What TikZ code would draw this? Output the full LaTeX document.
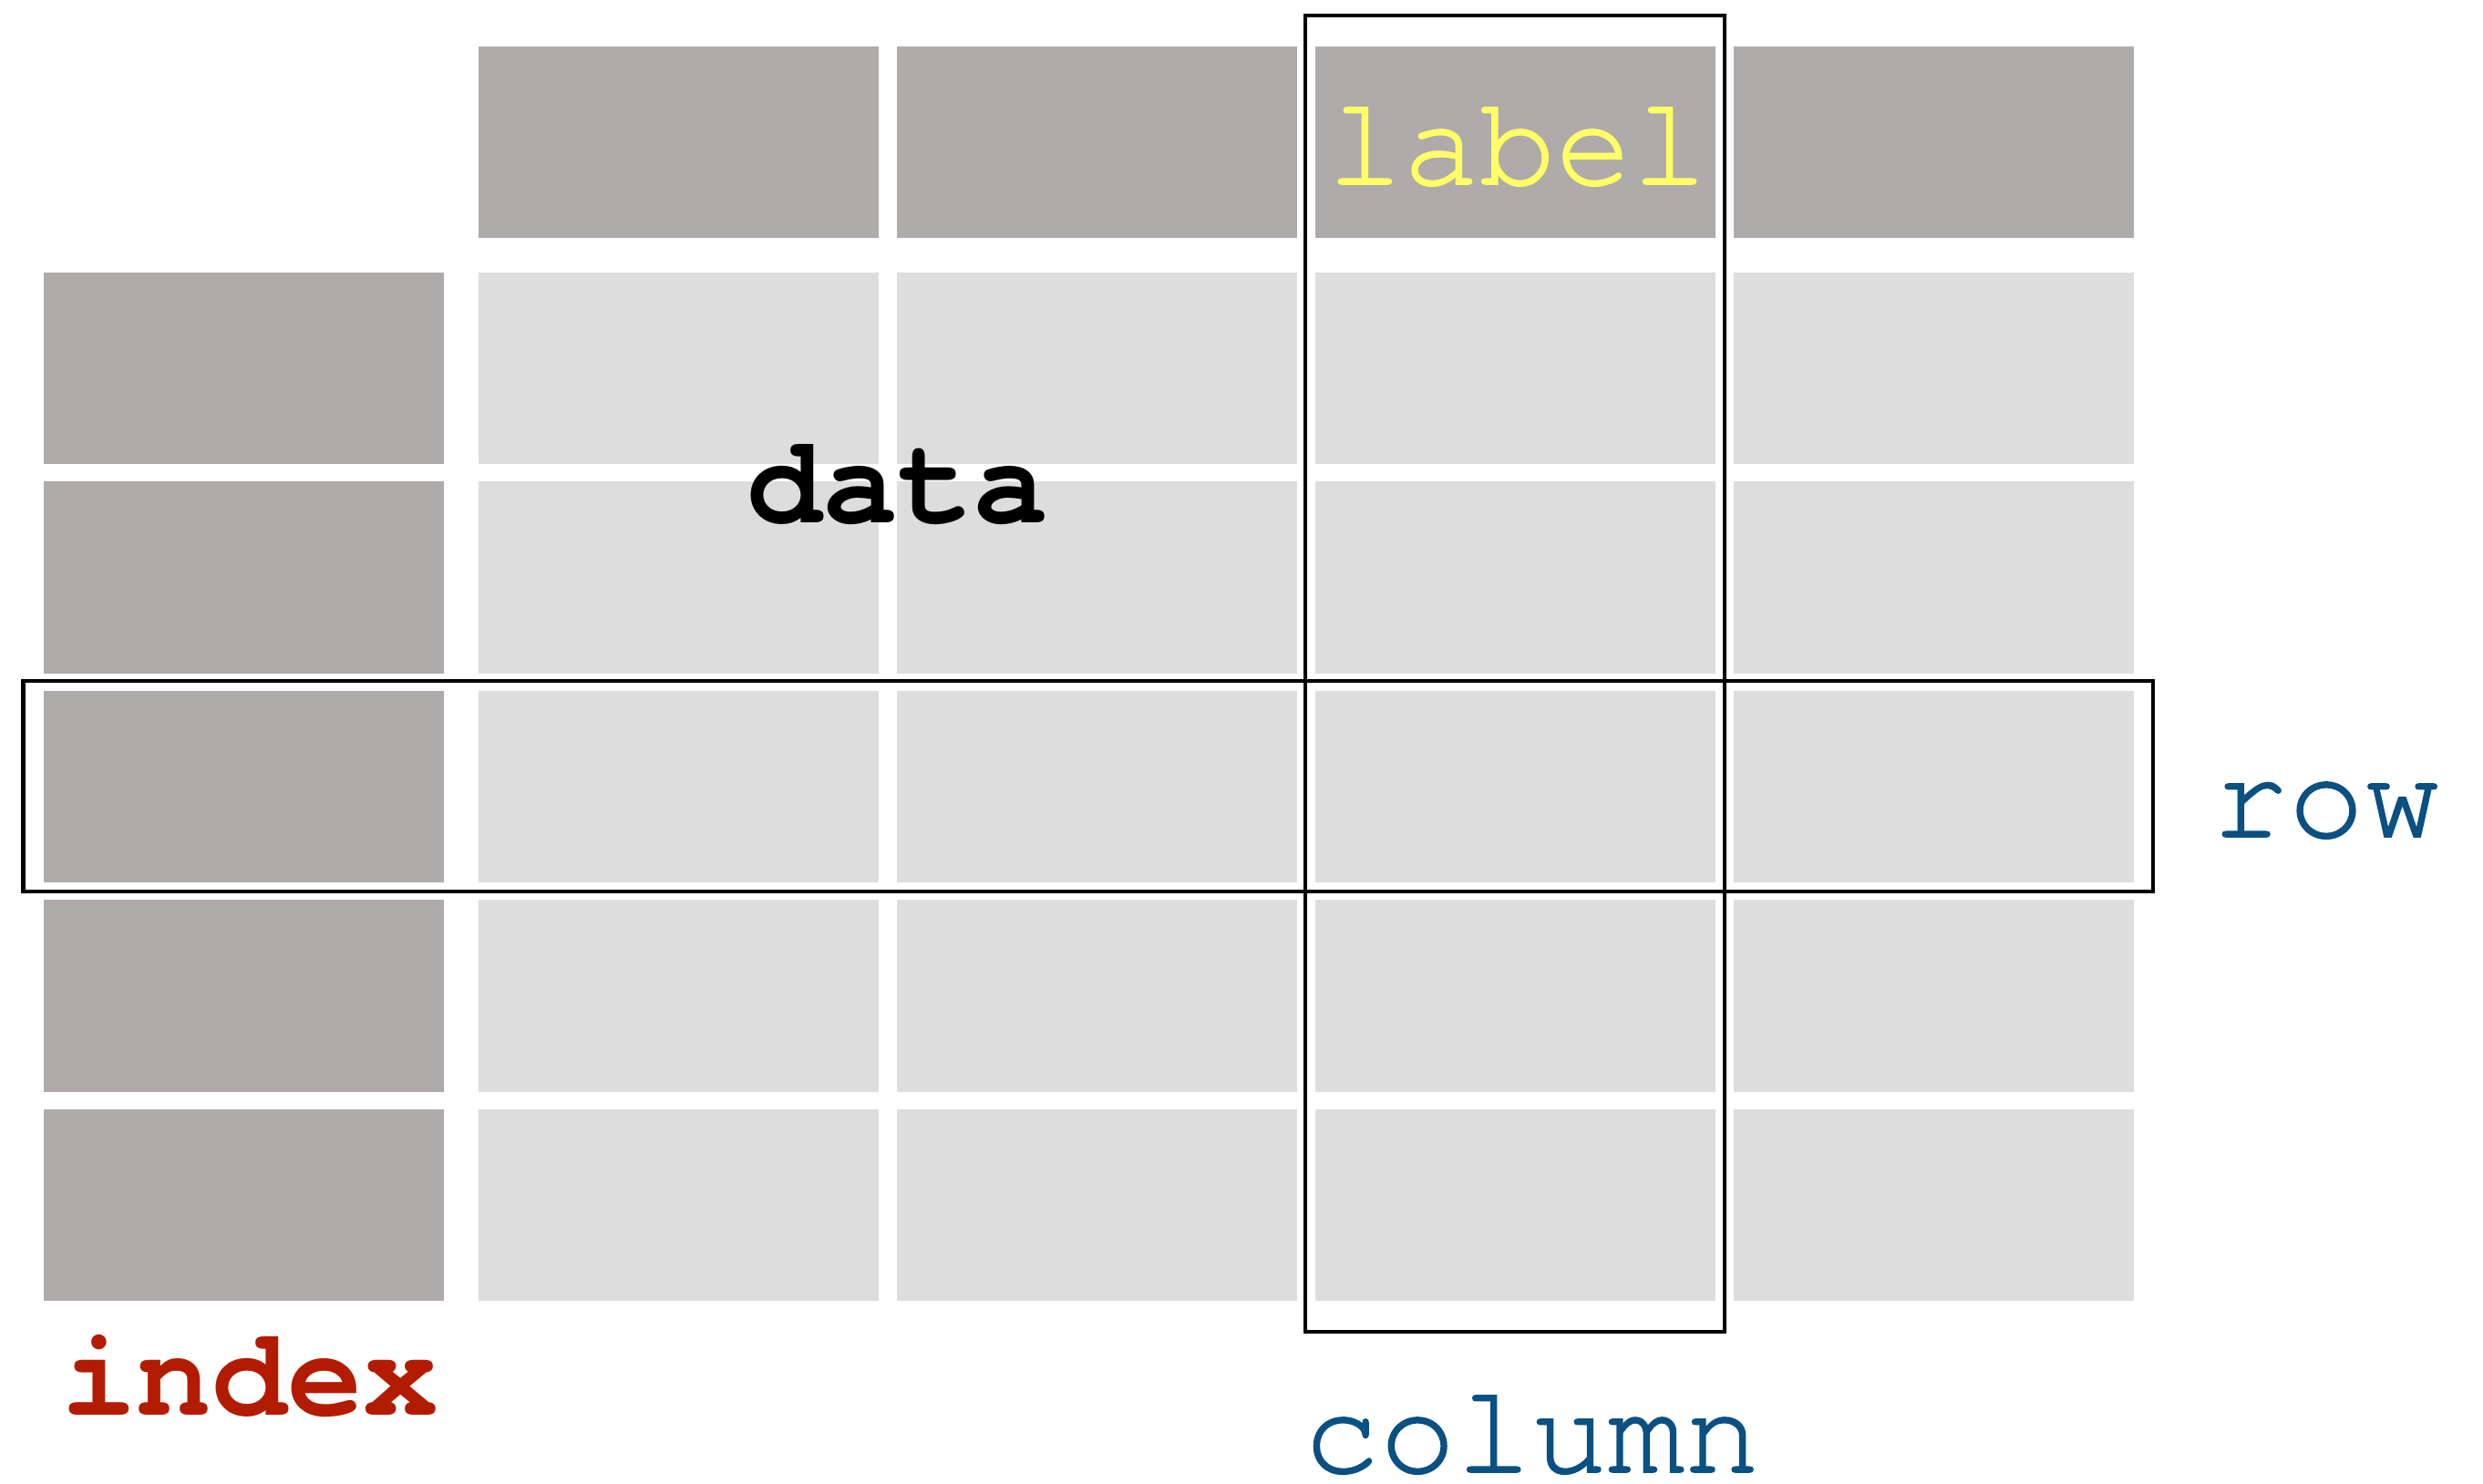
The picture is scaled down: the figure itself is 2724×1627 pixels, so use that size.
\documentclass[tikz,border=0pt]{standalone}
\usepackage{fontspec}
\setmonofont{texgyrecursor}[
  Extension=.otf,
  UprightFont=*-regular,
  BoldFont=*-bold]
% slightly heavier regular weight for the plain labels
\newfontfamily\cursormed{texgyrecursor-regular.otf}[FakeBold=1.2]
\definecolor{headgray}{HTML}{AFABAA}
\definecolor{cellgray}{HTML}{DDDDDD}
\definecolor{labelyellow}{HTML}{FFFF66}
\definecolor{axisblue}{HTML}{0A5082}
\definecolor{indexred}{HTML}{B31B00}
\begin{document}
\begin{tikzpicture}[x=0.01cm, y=-0.01cm,
  cell/.style={rectangle, inner sep=0pt, outer sep=0pt, minimum width=4.39cm, minimum height=2.10cm},
  headcell/.style={cell, fill=headgray},
  datacell/.style={cell, fill=cellgray},
  word/.style={inner sep=0pt, anchor=base, font=\fontsize{39.6pt}{48pt}\selectfont\cursormed},
  boldword/.style={word, font=\fontsize{39.2pt}{48pt}\selectfont\ttfamily\bfseries},
  frame/.style={draw=black, line width=1.15pt}]
\useasboundingbox (0,0) rectangle (2724,1627);

% column labels row (grey header cells)
\foreach \c in {0,...,3}
  \node[headcell] (h\c) at ({744.5+459*\c},156) {};

% index cells and data cells
\foreach \r in {0,...,4} {
  \node[headcell] (i\r) at (267.5,{404+229.5*\r}) {};
  \foreach \c in {0,...,3}
    \node[datacell] (d\r\c) at ({744.5+459*\c},{404+229.5*\r}) {};
}

% highlighted row and column
\draw[frame] (25.5,747) rectangle (2362,978);
\draw[frame] (1432,17) rectangle (1892,1461);

% texts
\node[word, text=labelyellow] (label) at (1664.5,202) {label};
\node[boldword, text=black] (data) at (985,573) {data};
\node[word, text=axisblue] (row) at (2552,918) {row};
\node[word, text=axisblue] (column) at (1680.5,1615) {column};
\node[boldword, text=indexred] (index) at (274,1552) {index};
\end{tikzpicture}
\end{document}
